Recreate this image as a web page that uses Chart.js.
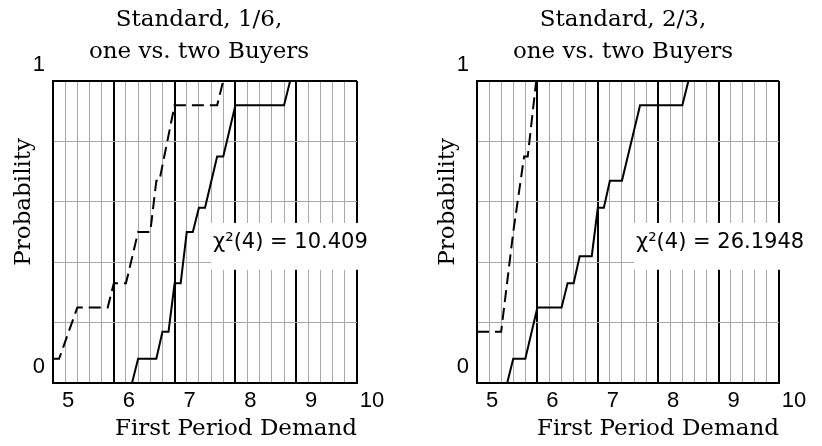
<!DOCTYPE html>
<html>
<head>
<meta charset="utf-8">
<script src="https://cdn.jsdelivr.net/npm/chart.js@4.4.1/dist/chart.umd.min.js"></script>
<style>
  body { margin: 0; background: #fff; }
  #marco { position: relative; width: 822px; height: 446px; }
  canvas { position: absolute; top: 0; }
</style>
</head>
<body>
<div id="marco">
  <canvas id="izq" width="398" height="446" style="left:0"></canvas>
  <canvas id="der" width="398" height="446" style="left:424px"></canvas>
</div>
<script>
// Standard, 1/6
const x16Solid = [5, 6.3, 6.4, 6.7, 6.8, 6.9, 7.0, 7.1, 7.2, 7.3, 7.4, 7.5, 7.7, 7.8, 8.0, 8.8, 8.9, 10];
const y16Solid = [0, 0, 0.08, 0.08, 0.17, 0.17, 0.33, 0.33, 0.5, 0.5, 0.58, 0.58, 0.75, 0.75, 0.92, 0.92, 1, 1];
const x16Dash = [5, 5.1, 5.4, 5.9, 6.0, 6.2, 6.4, 6.6, 6.7, 6.75, 7.0, 7.7, 7.8, 10];
const y16Dash = [0.08, 0.08, 0.25, 0.25, 0.33, 0.33, 0.5, 0.5, 0.67, 0.67, 0.92, 0.92, 1, 1];

// Standard, 2/3
const x23Solid = [5, 5.5, 5.6, 5.8, 6.0, 6.4, 6.5, 6.6, 6.7, 6.9, 7.0, 7.1, 7.2, 7.4, 7.7, 8.4, 8.5, 10];
const y23Solid = [0, 0, 0.08, 0.08, 0.25, 0.25, 0.33, 0.33, 0.42, 0.42, 0.58, 0.58, 0.67, 0.67, 0.92, 0.92, 1, 1];
const x23Dash = [5, 5.4, 5.6, 5.78, 5.84, 5.98, 10];
const y23Dash = [0.17, 0.17, 0.5, 0.75, 0.75, 1, 1];

const xLabels = [5, 6, 7, 8, 9, 10];
const yLabels = [0, 1];

const esEntero = v => Math.abs(v - Math.round(v)) < 1e-6;
const puntos = (xs, ys) => xs.map((x, i) => ({ x: x, y: ys[i] }));

// titulo del eje y y el recuadro del chi cuadrado
const notaChi = {
  id: 'notaChi',
  afterDraw(chart, args, opts) {
    const { ctx, chartArea, scales } = chart;
    ctx.save();
    ctx.font = '23px "DejaVu Serif"';
    ctx.fillStyle = '#000';
    ctx.translate(chartArea.left - 29, scales.y.getPixelForValue(0.6));
    ctx.rotate(-Math.PI / 2);
    ctx.textAlign = 'center';
    ctx.textBaseline = 'middle';
    ctx.fillText('Probability', 0, 0);
    ctx.restore();

    ctx.save();
    ctx.font = '21px "DejaVu Sans"';
    const izq = scales.x.getPixelForValue(7.6);
    const arriba = scales.y.getPixelForValue(0.53);
    const abajo = scales.y.getPixelForValue(0.375);
    const ancho = ctx.measureText(opts.texto).width;
    ctx.fillStyle = '#fff';
    ctx.fillRect(izq, arriba, ancho + 6, abajo - arriba);
    ctx.fillStyle = '#000';
    ctx.textBaseline = 'alphabetic';
    ctx.fillText(opts.texto, izq + 2, arriba + 25);
    ctx.restore();
  }
};

Chart.defaults.color = '#000';

function crearGrafico(id, titulo, xs1, ys1, xs2, ys2, chi, derecha) {
  new Chart(document.getElementById(id), {
    type: 'line',
    data: {
      datasets: [
        { label: 'solid', data: puntos(xs1, ys1), borderColor: '#000', borderWidth: 2, pointRadius: 0, tension: 0, fill: false },
        { label: 'dashed', data: puntos(xs2, ys2), borderColor: '#000', borderWidth: 2, borderDash: [12, 6], pointRadius: 0, tension: 0, fill: false }
      ]
    },
    options: {
      responsive: false,
      animation: false,
      devicePixelRatio: 1,
      layout: { padding: 0 },
      plugins: {
        legend: { display: false },
        tooltip: { enabled: false },
        title: {
          display: true,
          text: titulo,
          color: '#000',
          font: { family: 'DejaVu Serif', size: 23, weight: 'normal', lineHeight: '32px' },
          padding: { top: 4, bottom: 13 }
        },
        notaChi: { texto: chi }
      },
      scales: {
        x: {
          type: 'linear',
          min: 5,
          max: 10,
          afterFit: s => { s.height = 63; },
          border: { color: '#000', width: 2 },
          grid: {
            drawTicks: false,
            color: c => esEntero(c.tick.value) ? '#000' : '#a8a8a8',
            lineWidth: c => esEntero(c.tick.value) ? 2 : 1
          },
          ticks: {
            stepSize: 0.2,
            maxTicksLimit: 100,
            autoSkip: false,
            maxRotation: 0,
            padding: 5,
            labelOffset: 15,
            font: { family: 'Liberation Sans', size: 22 },
            callback: v => xLabels.includes(Math.round(v * 10) / 10) && esEntero(v) ? String(Math.round(v)) : ''
          },
          title: {
            display: true,
            text: 'First Period Demand',
            align: 'end',
            font: { family: 'DejaVu Serif', size: 23, weight: 'normal' },
            padding: { top: 0, bottom: 3 }
          }
        },
        y: {
          min: 0,
          max: 1,
          afterFit: s => { s.width = 53; },
          border: { color: '#000', width: 2 },
          grid: {
            drawTicks: false,
            color: c => esEntero(c.tick.value) ? '#000' : '#a8a8a8',
            lineWidth: c => esEntero(c.tick.value) ? 2 : 1
          },
          ticks: {
            stepSize: 0.2,
            padding: 8,
            labelOffset: -16,
            font: { family: 'Liberation Sans', size: 22 },
            callback: v => yLabels.includes(Math.round(v * 10) / 10) && esEntero(v) ? String(Math.round(v)) : ''
          }
        },
        // eje vacio a la derecha, solo reserva margen para que el titulo quede centrado en el lienzo
        margen: {
          position: 'right',
          min: 0,
          max: 1,
          afterFit: s => { s.width = derecha; },
          border: { display: false },
          grid: { display: false, drawTicks: false },
          ticks: { display: false }
        }
      }
    },
    plugins: [notaChi]
  });
}

crearGrafico('izq', ['Standard, 1/6,', 'one vs. two Buyers'], x16Solid, y16Solid, x16Dash, y16Dash, 'χ²(4) = 10.409', 41);
crearGrafico('der', ['Standard, 2/3,', 'one vs. two Buyers'], x23Solid, y23Solid, x23Dash, y23Dash, 'χ²(4) = 26.1948', 43);
</script>
</body>
</html>
